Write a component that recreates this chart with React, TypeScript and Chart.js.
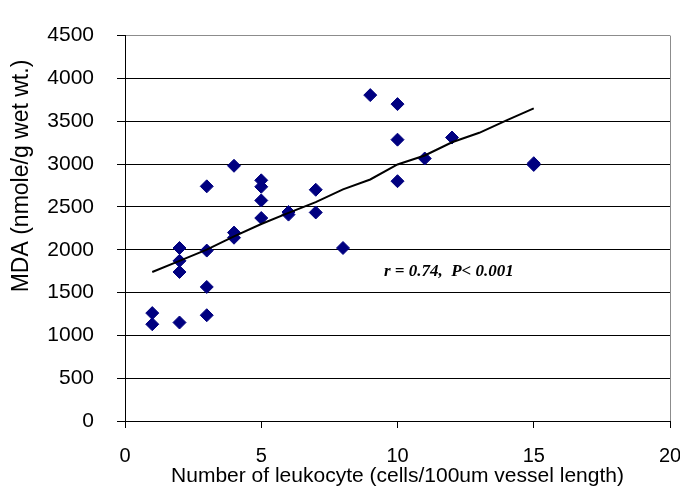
import React, { useEffect, useRef } from "react";
import { Chart, registerables } from "chart.js";

Chart.register(...registerables);

// Scatter data: number of leukocytes (x) vs MDA (y)
const leukocyteX = [1, 1, 2, 2, 2, 2, 3, 3, 3, 3, 4, 4, 4, 5, 5, 5, 5, 6, 6, 7, 7, 8, 9, 10, 10, 10, 11, 12, 15, 15];
const mdaY = [1260, 1130, 2020, 1870, 1740, 1150, 2740, 1990, 1565, 1235, 2980, 2200, 2140, 2810, 2735, 2575, 2370, 2440, 2410, 2700, 2435, 2020, 3805, 3700, 3285, 2800, 3065, 3310, 3010, 2990];

// Trend line as drawn in the figure
const trendX = [1, 2, 3, 4, 5, 6, 7, 8, 9, 10, 11, 12, 13, 14, 15];
const trendY = [1740, 1870, 2000, 2155, 2300, 2430, 2555, 2705, 2820, 2995, 3100, 3255, 3365, 3510, 3650];

const xTicks = [0, 5, 10, 15, 20];
const yTicks = [0, 500, 1000, 1500, 2000, 2500, 3000, 3500, 4000, 4500];

const xTitle = "Number of leukocyte (cells/100um vessel length)";
const yTitle = "MDA (nmole/g wet wt.)";
const statText = "r = 0.74,  P< 0.001";
const statAt = { x: 9.5, y: 1740 };

const SANS = '"Liberation Sans", Arial, sans-serif';
const SERIF = '"Liberation Serif", "Times New Roman", serif';

export default function App() {
  const ref = useRef<HTMLCanvasElement | null>(null);

  useEffect(() => {
    document.body.style.margin = "0";
    const canvas = ref.current;
    if (!canvas) return;

    const scatterPts = leukocyteX.map((x, i) => ({ x, y: mdaY[i] }));
    const trendPts = trendX.map((x, i) => ({ x, y: trendY[i] }));

    const decor = {
      id: "decor",
      beforeDatasetsDraw(chart: any) {
        const { ctx, chartArea } = chart;
        ctx.save();
        ctx.strokeStyle = "#8c8c8c";
        ctx.lineWidth = 1;
        ctx.beginPath();
        const r = Math.round(chartArea.right) + 0.5;
        ctx.moveTo(r, chartArea.top);
        ctx.lineTo(r, chartArea.bottom);
        ctx.stroke();
        ctx.restore();
      },
      afterDraw(chart: any) {
        const { ctx, scales } = chart;
        ctx.save();
        // y axis title
        ctx.translate(22, 176);
        ctx.rotate(-Math.PI / 2);
        ctx.font = `23px ${SANS}`;
        ctx.fillStyle = "#000";
        ctx.textAlign = "center";
        ctx.textBaseline = "middle";
        ctx.fillText(yTitle, 0, 0);
        ctx.restore();

        ctx.save();
        ctx.font = `italic bold 17px ${SERIF}`;
        ctx.fillStyle = "#000";
        ctx.textAlign = "left";
        ctx.textBaseline = "middle";
        ctx.fillText(statText, scales.x.getPixelForValue(statAt.x), scales.y.getPixelForValue(statAt.y));
        ctx.restore();
      },
    };

    const chart = new Chart(canvas, {
      type: "scatter",
      data: {
        datasets: [
          {
            label: "trend",
            data: trendPts,
            showLine: true,
            borderColor: "#000",
            borderWidth: 2,
            pointRadius: 0,
            tension: 0,
            order: 1,
          } as any,
          {
            label: "MDA",
            data: scatterPts,
            pointStyle: "rectRot",
            pointRadius: 6.5,
            pointBackgroundColor: "#000080",
            pointBorderColor: "#000080",
            pointBorderWidth: 1,
            showLine: false,
            order: 2,
          } as any,
        ],
      },
      options: {
        responsive: false,
        animation: false,
        events: [],
        layout: { padding: { top: 23, right: 10, bottom: 0, left: 0 } },
        plugins: {
          legend: { display: false },
          tooltip: { enabled: false },
        },
        scales: {
          x: {
            type: "linear",
            min: 0,
            max: 20,
            afterBuildTicks: (s: any) => {
              s.ticks = xTicks.map((v) => ({ value: v }));
            },
            afterFit: (s: any) => {
              s.height = 66;
              s.paddingLeft = 0;
              s.paddingRight = 10;
            },
            ticks: {
              color: "#000",
              font: { family: SANS, size: 20 },
              padding: 16,
              maxRotation: 0,
              callback: (v: any) => String(v),
            },
            grid: {
              drawOnChartArea: false,
              drawTicks: true,
              tickLength: 7,
              color: "#000",
            },
            border: { display: true, color: "#000", width: 1 },
            title: {
              display: true,
              text: xTitle,
              color: "#000",
              font: { family: SANS, size: 21, lineHeight: 1 },
              padding: { top: 0, bottom: 0 },
            },
          },
          y: {
            type: "linear",
            min: 0,
            max: 4500,
            afterBuildTicks: (s: any) => {
              s.ticks = yTicks.map((v) => ({ value: v }));
            },
            afterFit: (s: any) => {
              s.width = 125;
            },
            ticks: {
              color: "#000",
              font: { family: SANS, size: 21 },
              padding: 23,
              callback: (v: any) => String(v),
            },
            grid: {
              drawTicks: true,
              tickLength: 8,
              color: (c: any) => (c.tick && c.tick.value === 4500 ? "#8c8c8c" : "#000"),
              tickColor: "#000",
            },
            border: { display: true, color: "#000", width: 1 },
          },
        },
      },
      plugins: [decor],
    } as any);

    return () => {
      chart.destroy();
    };
  }, []);

  return (
    <div style={{ position: "fixed", left: 0, top: 0, width: 680, height: 487, background: "#fff" }}>
      <canvas ref={ref} width={680} height={487} style={{ width: 680, height: 487 }} />
    </div>
  );
}
